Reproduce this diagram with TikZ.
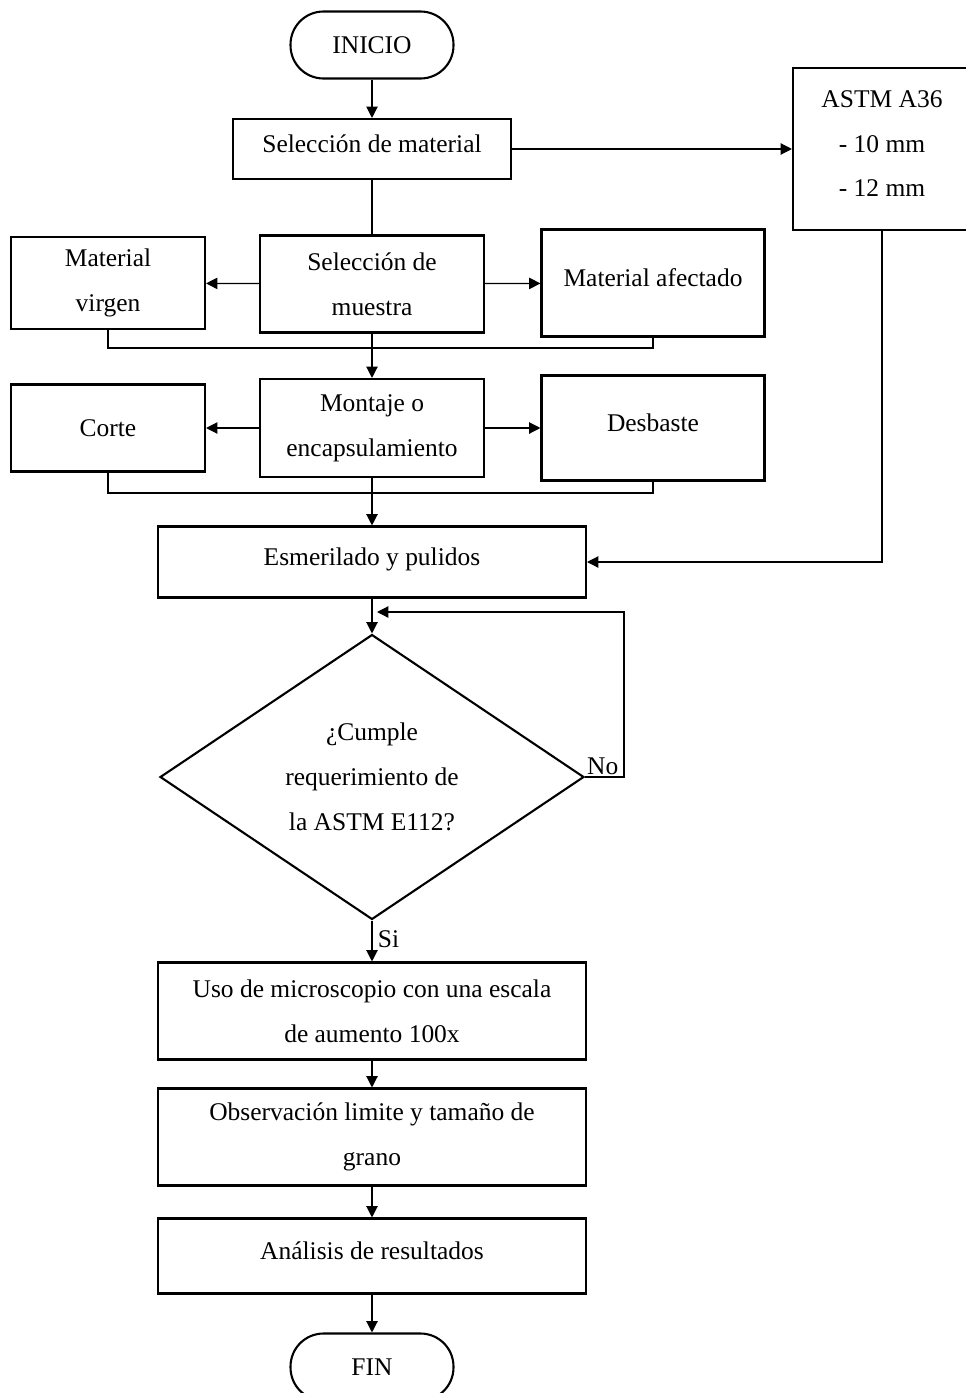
\documentclass[tikz,border=0pt]{standalone}
\usepackage{fontspec}
\setmainfont{Liberation Serif}
\usepackage{tikz}
\usetikzlibrary{shapes.geometric}
\usetikzlibrary{arrows.meta}

\begin{document}
\begin{tikzpicture}[x = 0.02cm, y = -0.02cm,
        font = \fontsize{14.5}{25.5}\selectfont,
        proc/.style = {draw, line width = 1.2pt, align = center, inner sep = 0pt},
        lifted/.style = {text depth = 6pt},
        term/.style = {proc, rounded corners = 0.66cm, minimum width = 3.26cm, minimum height = 1.34cm},
        cond/.style = {draw, diamond, line width = 1.2pt, align = center, inner sep = 0pt,
            minimum width = 8.48cm, minimum height = 5.7cm},
        link/.style = {line width = 0.7pt},
        flow/.style = {link, -{Triangle[length = 6.5pt, width = 6.5pt]}}]
        \useasboundingbox (0,0) rectangle (965,1393);

        % column of the main process
        \node[term] (inicio) at (372,45) {INICIO};
        \node[proc, lifted, minimum width = 5.56cm, minimum height = 1.2cm] (selmat) at (372,149) {Selección de material};
        \node[proc, minimum width = 4.48cm, minimum height = 1.94cm] (muestra) at (372,284) {Selección de\\muestra};
        \node[proc, minimum width = 4.48cm, minimum height = 1.96cm] (montaje) at (372,428) {Montaje o\\encapsulamiento};
        \node[proc, lifted, minimum width = 8.56cm, minimum height = 1.42cm] (esmer) at (372,562) {Esmerilado y pulidos};
        \node[cond] (cumple) at (372,777) {¿Cumple\\requerimiento de\\la ASTM E112?};
        \node[proc, minimum width = 8.56cm, minimum height = 1.94cm] (micro) at (372,1011) {Uso de microscopio con una escala\\de aumento 100x};
        \node[proc, minimum width = 8.56cm, minimum height = 1.94cm] (obs) at (372,1137) {Observación limite y tamaño de\\grano};
        \node[proc, lifted, minimum width = 8.56cm, minimum height = 1.5cm] (analisis) at (372,1256) {Análisis de resultados};
        \node[term] (fin) at (372,1367) {FIN};

        % side boxes
        \node[proc, lifted, minimum width = 3.56cm, minimum height = 3.24cm] (astm) at (882,149) {ASTM A36\\- 10 mm\\- 12 mm};
        \node[proc, minimum width = 3.88cm, minimum height = 1.84cm] (virgen) at (108,283) {Material\\virgen};
        \node[proc, lifted, minimum width = 4.46cm, minimum height = 2.14cm] (afect) at (653,283) {Material afectado};
        \node[proc, minimum width = 3.88cm, minimum height = 1.74cm] (corte) at (108,428) {Corte};
        \node[proc, lifted, minimum width = 4.46cm, minimum height = 2.1cm] (desb) at (653,428) {Desbaste};

        \coordinate (junta1) at (372,348);
        \coordinate (junta2) at (372,493);
        \coordinate (vuelta) at (377,612);

        \draw[flow] (inicio) -- (selmat);
        \draw[flow] (selmat) -- (astm.west |- selmat);
        \draw[link] (selmat) -- (muestra);
        \draw[flow] (muestra) -- (virgen);
        \draw[flow] (muestra) -- (afect);
        \draw[link] (virgen.south) |- (junta1) -| (afect.south);
        \draw[flow] (muestra) -- (montaje);
        \draw[flow] (montaje) -- (corte);
        \draw[flow] (montaje) -- (desb);
        \draw[link] (corte.south) |- (junta2) -| (desb.south);
        \draw[flow] (montaje) -- (esmer);
        \draw[flow] (astm.south) |- (esmer.east);
        \draw[flow] (esmer) -- (cumple);
        \draw[flow] (cumple.east) -- ++(39,0) |- (vuelta);
        \node[anchor = south west, inner sep = 1pt] (no) at (cumple.east) {No};
        \draw[flow] (cumple) -- (micro) node[pos = 0.45, right, inner sep = 3pt] {Si};
        \draw[flow] (micro) -- (obs);
        \draw[flow] (obs) -- (analisis);
        \draw[flow] (analisis) -- (fin);
    \end{tikzpicture}
\end{document}
